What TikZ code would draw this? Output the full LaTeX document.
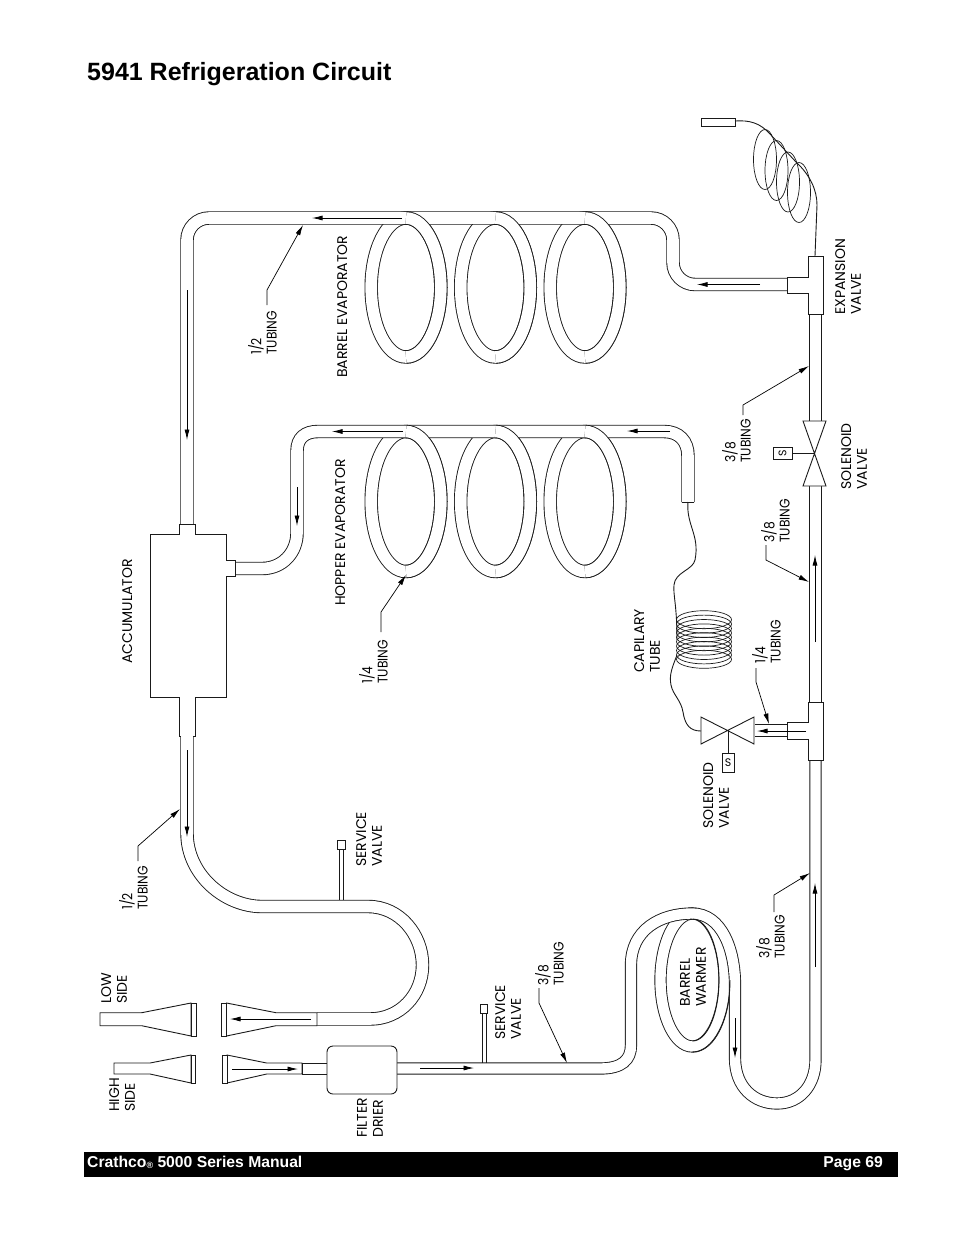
\documentclass[tikz,border=0pt]{standalone}
\usepackage{fontspec}
\usepackage{tikz}
\usetikzlibrary{arrows.meta}
\setmainfont{Liberation Sans}
\newfontfamily\labelfont{Poppins}
\newfontfamily\sizefont[FakeStretch=0.88]{Poppins}
\definecolor{inkline}{HTML}{1A1A1A}

\tikzset{
    tube/.style={double, double distance=11.6, line width=0.9, draw=inkline},
    plain/.style={line width=0.9, draw=inkline},
    fitting/.style={line width=0.9, draw=inkline, fill=white},
    flow/.style={line width=0.8, draw=black, -{Latex[length=10.5, width=5]}},
    leader/.style={line width=0.7, draw=black, -{Latex[length=10.5, width=5]}},
    tag/.style={rotate=90, anchor=north west, align=left, inner sep=0, font=\labelfont\fontsize{14}{15.8}\selectfont},
    sizetag/.style={tag, font=\sizefont\fontsize{14}{15.2}\selectfont},
    solbox/.style={draw=inkline, line width=0.8, fill=white, inner sep=0, font=\labelfont\fontsize{11}{11}\selectfont}
}

\begin{document}
\begin{tikzpicture}[x=1pt, y=-1pt]
    \useasboundingbox (0,0) rectangle (954,1235);

    \node (title) [anchor=base west, inner sep=0, font=\bfseries\fontsize{25}{25}\selectfont] at (87,80) {5941 Refrigeration Circuit};

    % barrel evaporator
    \foreach \i/\x in {1/406,2/495.5,3/585} {
        \draw[tube] (\x,287.5) ellipse (34.8 and 69.5);
    }
    \draw[tube] (187,524) [rounded corners=22] -- (187,218) -- (673,218) -- (673,284.5) -- (787,284.5);
    \foreach \i/\x in {1/406,2/495.5,3/585} {
        \draw[tube] (\x,218) arc (-90:90:34.8 and 69.5);
    }

    % hopper evaporator
    \foreach \i/\x in {1/406,2/495.5,3/585} {
        \draw[tube] (\x,501.5) ellipse (34.8 and 70);
    }
    \draw[tube] (235,568.5) -- (262,568.5) .. controls (283,568.5) and (297,552) .. (297,533) -- (297,451) .. controls (297,438) and (305,431.5) .. (318,431.5) -- (664,431.5) .. controls (679,431.5) and (688,441) .. (688,456) -- (688,502);
    \foreach \i/\x in {1/406,2/495.5,3/585} {
        \draw[tube] (\x,431.5) arc (-90:90:34.8 and 70);
    }
    \draw[plain] (681.7,502) -- (694.3,502);

    % accumulator with its stubs
    \draw[fitting] (150,534) -- (179,534) -- (179,524) -- (195,524) -- (195,534) -- (226,534) -- (226,560) -- (235,560) -- (235,576) -- (226,576) -- (226,697) -- (195,697) -- (195,736) -- (179,736) -- (179,697) -- (150,697) -- cycle;

    % suction line and service valve
    \draw[fitting] (339.3,849) rectangle (343.3,901);
    \draw[tube] (187,736) -- (187,833) .. controls (187,875) and (225,906.5) .. (262,906.5) -- (368,906.5) .. controls (400,906.5) and (422.5,935) .. (422.5,965) .. controls (422.5,995) and (400,1019) .. (370,1019) -- (317,1019);
    \node (service1) [draw=inkline, fill=white, line width=0.8, minimum width=8, minimum height=9, inner sep=0] at (341,844.5) {};

    % flare fittings
    \draw[fitting] (100,1012.7) -- (141.7,1012.7) -- (191,1003) -- (191,1036) -- (141.7,1025.7) -- (100,1025.7) -- cycle;
    \draw[fitting] (191,1003) rectangle (196.5,1036);
    \draw[fitting] (317,1012.7) -- (276,1012.7) -- (226.5,1003) -- (226.5,1036) -- (276,1025.7) -- (317,1025.7) -- cycle;
    \draw[fitting] (221,1003) rectangle (226.5,1036);
    \draw[fitting] (114,1063) -- (150,1063) -- (191,1055) -- (191,1083) -- (150,1074) -- (114,1074) -- cycle;
    \draw[fitting] (191,1055) rectangle (195.5,1083);
    \draw[fitting] (302,1063) -- (266.7,1063) -- (227,1055) -- (227,1083) -- (266.7,1074) -- (302,1074) -- cycle;
    \draw[fitting] (222,1055) rectangle (227,1083);
    \draw[fitting] (302,1063) rectangle (327,1074);

    % liquid line round the barrel warmer
    \draw[fitting] (482,1013) rectangle (486,1063.5);
    \node (service2) [draw=inkline, fill=white, line width=0.8, minimum width=6.5, minimum height=9, inner sep=0] at (484,1008.5) {};
    \draw[tube, double distance=10.4] (692.5,980) ellipse (32 and 66.5);
    \draw[tube, double distance=10.4] (397,1068.5) -- (600,1068.5) .. controls (622,1068.5) and (631,1060) .. (631,1045) -- (631,965) .. controls (631,930) and (660,913.5) .. (692,913.5) .. controls (722,913.5) and (735,950) .. (735,985) -- (735,1058) .. controls (735,1088) and (755,1103.5) .. (777,1103.5) .. controls (800,1103.5) and (815.5,1085) .. (815.5,1060) -- (815.5,760);
    \draw[plain] (692.5,919) arc (-90:90:26.5 and 61);
    \draw[plain] (730,980) arc (0:90:37.5 and 72);
    \node (drier) [draw=inkline, fill=white, line width=0.9, rounded corners=6, minimum width=70, minimum height=48, inner sep=0] at (362,1070) {};

    % main riser with tees and valves
    \draw[tube] (815.5,314) -- (815.5,421);
    \draw[tube] (815.5,486) -- (815.5,702);
    \draw[fitting] (808,256) -- (823,256) -- (823,314) -- (808,314) -- (808,293) -- (787,293) -- (787,277) -- (808,277) -- cycle;
    \draw[fitting] (808,702) -- (823,702) -- (823,760) -- (808,760) -- (808,739) -- (787,739) -- (787,722) -- (808,722) -- cycle;
    \draw[plain] (755,724) -- (787,724);
    \draw[plain] (755,736) -- (787,736);

    % solenoid valves
    \draw[fitting] (803,421) -- (826,421) -- (803,486) -- (826,486) -- cycle;
    \draw[plain] (815,453) -- (792,453);
    \node (sol1) [solbox, rotate=90, minimum width=12, minimum height=19] at (782.5,453) {S};
    \draw[fitting] (701,717) -- (701,744) -- (754,717) -- (754,744) -- cycle;
    \draw[plain] (728,731) -- (728,753);
    \node (sol2) [solbox, minimum width=12, minimum height=19] at (728,762.5) {S};

    % capillary tube
    \draw[plain] (688,502) .. controls (686,525) and (700,535) .. (695,560) .. controls (693,570) and (675,572) .. (674,585) .. controls (673,595) and (677,605) .. (677,640);
    \foreach \i in {0,...,9} {
        \pgfmathsetmacro{\y}{619.7 + 4.4*\i}
        \draw[plain, line width=0.7] (704,\y) ellipse (27.5 and 9);
    }
    \draw[plain] (677,655) .. controls (672,668) and (669,675) .. (671,685) .. controls (673,695) and (681,700) .. (683,712) .. controls (685,725) and (690,731) .. (701,731);

    % expansion bulb
    \draw[fitting] (701,118) rectangle (735,126);
    \draw[plain] (735,121) .. controls (750,120) and (760,123) .. (770,134) -- (796,162) .. controls (810,175) and (817,190) .. (817,205) -- (815,256);
    \foreach \i/\x/\y in {1/765/159.5,2/776.5/170.5,3/788/182,4/799/192.5} {
        \draw[plain, line width=0.7] (\x,\y) ellipse (11.5 and 30);
    }

    % flow arrows
    \foreach \a/\b/\c/\d in {402/218/312/218, 187/290/187/440, 403/431.5/332/431.5, 670/431/627/431, 297/487/297/526, 760/284.5/697/284.5, 815/642/815/555, 806/731/757/731, 187/750/187/837, 815/967/815/883, 735/1018/735/1058, 420/1068/474/1068, 311/1019/230/1019, 232/1069/298/1069} {
        \draw[flow] (\a,\b) -- (\c,\d);
    }

    % tubing leaders
    \foreach \i/\sx/\sy/\kx/\ky/\tx/\ty in {1/267/305/267/290/303/225, 2/743/415/743/405/809/366, 3/766/545/766/560/809/582, 4/756/668/756/682/769/724, 5/381/632/381/612/406/575, 6/138/861/138/846/180/809, 7/539/988/539/1003/567/1063, 8/774/912/774/895/810/873} {
        \coordinate (S\i) at (\sx,\sy);
        \coordinate (K\i) at (\kx,\ky);
        \coordinate (T\i) at (\tx,\ty);
        \draw[leader] (S\i) -- (K\i) -- (T\i);
    }

    % labels
    \node (lexp) [tag] at (835,315) {EXPANSION\\VALVE};
    \node (lsol1) [tag] at (841,490) {SOLENOID\\VALVE};
    \node (lt1) [sizetag] at (722,463) {3/8\\TUBING};
    \node (lt2) [sizetag] at (761,543) {3/8\\TUBING};
    \node (lt3) [sizetag] at (752,664) {1/4\\TUBING};
    \node (lcap) [tag] at (634,673) {CAPILARY\\TUBE};
    \node (lsol2) [tag] at (703,829) {SOLENOID\\VALVE};
    \node (lt4) [sizetag] at (248,355) {1/2\\TUBING};
    \node (lbarrel) [tag] at (337,378) {BARREL EVAPORATOR};
    \node (lhopper) [tag] at (335,606) {HOPPER EVAPORATOR};
    \node (lt5) [sizetag] at (359,684) {1/4\\TUBING};
    \node (lacc) [tag] at (122,664) {ACCUMULATOR};
    \node (lt6) [sizetag] at (119,910) {1/2\\TUBING};
    \node (lsv1) [tag] at (356,867) {SERVICE\\VALVE};
    \node (lsv2) [tag] at (495,1040) {SERVICE\\VALVE};
    \node (lt7) [sizetag] at (535,986) {3/8\\TUBING};
    \node (lwarm) [tag] at (680,1007) {BARREL\\WARMER};
    \node (lt8) [sizetag] at (756,959) {3/8\\TUBING};
    \node (llow) [tag] at (101,1004) {LOW\\SIDE};
    \node (lhigh) [tag] at (109,1112) {HIGH\\SIDE};
    \node (lfilter) [tag] at (357,1138) {FILTER\\DRIER};

    % page footer
    \node (footer) [fill=black, minimum width=814, minimum height=25, inner sep=0, anchor=north west] at (84,1152) {};
    \node (fleft) [anchor=base west, inner sep=0, text=white, font=\bfseries\fontsize{15.7}{15.7}\selectfont] at (87,1167) {Crathco{\fontsize{9}{9}\selectfont\raisebox{-1.5pt}{\textregistered}} 5000 Series Manual};
    \node (fright) [anchor=base east, inner sep=0, text=white, font=\bfseries\fontsize{15.7}{15.7}\selectfont] at (883,1167) {Page 69};
\end{tikzpicture}
\end{document}
